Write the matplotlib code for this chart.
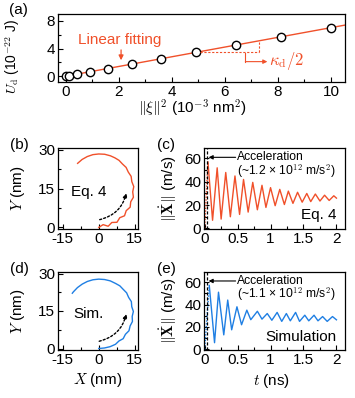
import numpy as np
import matplotlib
matplotlib.use("Agg")
import matplotlib.pyplot as plt
from matplotlib.ticker import MultipleLocator

plt.rcParams['font.family'] = ['Liberation Sans', 'DejaVu Sans']
plt.rcParams['font.size'] = 11
plt.rcParams['mathtext.fontset'] = 'cm'
plt.rcParams['axes.unicode_minus'] = False
plt.rcParams['axes.linewidth'] = 0.9

RED = '#f0502a'
BLUE = '#1f7fe3'

# ---------------- data ----------------
# (a) energy vs squared displacement
xi2 = [0, 0.1, 0.4, 0.9, 1.6, 2.5, 3.6, 4.9, 6.4, 8.1, 10.0]
Ud = [0.0, 0.07, 0.28, 0.63, 1.1, 1.75, 2.55, 3.45, 4.5, 5.7, 7.0]

# (b) trajectory, Eq. 4
Xb = [0, 1.84, 3.95, 5.47, 7.63, 8.78, 10.77, 11.48, 13.13, 13.36, 14.48, 14.19,
      14.63, 13.82, 13.53, 12.34, 11.43, 9.90, 8.47, 6.71, 4.87, 2.47, 0.0,
      -2.44, -4.77, -6.93, -8.81]
Yb = [0, 1.08, 0.46, 1.91, 1.99, 3.74, 4.50, 6.46, 7.81, 9.86, 11.64, 13.70,
      15.74, 17.65, 19.68, 21.33, 23.13, 24.45, 25.85, 26.83, 27.60, 28.19, 28.30,
      28.04, 27.31, 26.19, 24.69]

# (d) trajectory, simulation
Xd = [0, 2.40, 4.75, 7.0, 8.44, 10.21, 11.16, 12.63, 13.11, 14.08, 13.97, 14.47,
      13.79, 13.63, 12.49, 11.65, 10.21, 8.81, 7.05, 4.82, 2.44, 0.0, -2.42,
      -4.74, -6.9, -8.87, -10.57, -11.02]
Yd = [0, 0.21, 0.73, 1.68, 3.0, 3.93, 5.69, 7.09, 9.03, 10.8, 12.82, 14.81,
      16.73, 18.76, 20.44, 22.27, 23.67, 25.07, 26.01, 27.05, 27.59, 27.75, 27.49,
      26.82, 25.75, 24.37, 22.67, 22.11]

# (c) speed vs time, Eq. 4
t_c = [0, 0.05, 0.12, 0.19, 0.25, 0.32, 0.39, 0.46, 0.53, 0.59, 0.66, 0.73, 0.80,
       0.87, 0.93, 1.00, 1.07, 1.14, 1.21, 1.27, 1.34, 1.41, 1.48, 1.55, 1.61,
       1.68, 1.75, 1.82, 1.89, 1.96, 2.0]
v_c = [0, 57, 7, 52, 8, 48, 10, 45, 12, 42, 14, 39.5, 16, 37, 18, 35, 19.5, 33.5,
       20.5, 32, 21.5, 31, 22.5, 30, 23, 29.5, 23.5, 28.5, 24, 28, 26]

# (e) speed vs time, simulation
t_e = [0, 0.07, 0.15, 0.21, 0.29, 0.35, 0.41, 0.49, 0.56, 0.64, 0.70, 0.80, 0.87,
       0.95, 1.02, 1.10, 1.17, 1.24, 1.30, 1.38, 1.44, 1.52, 1.58, 1.66, 1.72,
       1.79, 1.86, 1.94, 2.0]
v_e = [0, 57, 6, 51, 13, 44, 17.5, 38, 22, 35, 26.5, 34, 27, 32, 26, 33, 25, 32,
       25.5, 33, 25, 30.5, 25.5, 30.5, 25.5, 29.3, 25, 29.3, 26.4]

accel_t = 0.04
accel_c = "(~1.2 × 10$^{\\mathsf{12}}$ m/s$^{\\mathsf{2}}$)"
accel_e = "(~1.1 × 10$^{\\mathsf{12}}$ m/s$^{\\mathsf{2}}$)"

# ---------------- layout ----------------
W, H = 355, 398
fig = plt.figure(figsize=(W / 100, H / 100), dpi=100)


def add_ax(l, r, t, b):
    return fig.add_axes([l / W, 1 - b / H, (r - l) / W, (b - t) / H])


def style(ax):
    ax.tick_params(which='both', direction='in', labelsize=11, pad=2, width=0.8)
    ax.tick_params(which='major', length=3.5)
    ax.tick_params(which='minor', length=2)


axa = add_ax(58, 345, 14, 82)
axb = add_ax(58, 138, 148, 229)
axc = add_ax(204, 345, 148, 229)
axd = add_ax(58, 138, 272, 350)
axe = add_ax(204, 345, 272, 350)

# ---- (a)
coef = np.polyfit(xi2, Ud, 1)
xfit = np.array([0, 10.6])
axa.plot(xfit, np.polyval(coef, xfit), color=RED, lw=1.0, zorder=1)
axa.plot(xi2, Ud, 'o', mfc='white', mec='black', ms=6, mew=1.0, zorder=2)
axa.set_xlim(-0.3, 10.53)
axa.set_ylim(-0.85, 9)
axa.xaxis.set_major_locator(MultipleLocator(2))
axa.xaxis.set_minor_locator(MultipleLocator(1))
axa.yaxis.set_major_locator(MultipleLocator(4))
axa.yaxis.set_minor_locator(MultipleLocator(2))
style(axa)
axa.set_ylabel("$U_\\mathrm{d}$ (10$^{\\mathsf{-22}}$ J)", fontsize=10)
axa.yaxis.set_label_coords(-0.125, 0.38)
axa.set_xlabel("$\\Vert\\xi\\Vert^2$ (10$^{\\mathsf{-3}}$ nm$^{\\mathsf{2}}$)")
axa.xaxis.set_label_coords(0.47, -0.24)
axa.text(2.02, 5.2, "Linear fitting", color=RED, ha='center', va='center', fontsize=11)
axa.annotate('', xy=(2.08, 1.9), xytext=(2.08, 4.2),
             arrowprops=dict(arrowstyle='-|>', color=RED, lw=0.9, mutation_scale=7))
axa.plot([5.05, 7.27], [3.55, 3.55], ls=(0, (2, 1.5)), color=RED, lw=0.8)
axa.plot([7.27, 7.27], [3.55, 5.05], ls=(0, (2, 1.5)), color=RED, lw=0.8)
axa.plot([6.77, 6.77], [3.3, 2.1], color=RED, lw=0.8)
axa.annotate('', xy=(7.6, 2.1), xytext=(6.77, 2.1),
             arrowprops=dict(arrowstyle='-|>', color=RED, lw=0.8, mutation_scale=6,
                             shrinkA=0, shrinkB=0))
axa.text(7.68, 2.25, "$\\kappa_\\mathrm{d}/2$", color=RED, ha='left', va='center', fontsize=12)


# ---- trajectories
def traj(ax, X, Y, color, label, arrow_from, arrow_to):
    ax.plot(X, Y, color=color, lw=1.0, solid_joinstyle='round')
    ax.set_xlim(-17, 16.4)
    ax.set_ylim(-0.6, 30.6)
    ax.xaxis.set_major_locator(MultipleLocator(15))
    ax.xaxis.set_minor_locator(MultipleLocator(7.5))
    ax.yaxis.set_major_locator(MultipleLocator(15))
    ax.yaxis.set_minor_locator(MultipleLocator(7.5))
    style(ax)
    ax.set_ylabel("$Y$ (nm)")
    ax.yaxis.set_label_coords(-0.39, 0.5)
    ax.text(-4.2, 13.7, label, ha='center', va='center', fontsize=11)
    ax.annotate('', xy=arrow_to, xytext=arrow_from,
                arrowprops=dict(arrowstyle='-|>', color='black', lw=1.0, ls=(0, (1.5, 1.5)),
                                mutation_scale=6, connectionstyle='arc3,rad=0.3',
                                shrinkA=0, shrinkB=0))


traj(axb, Xb, Yb, RED, "Eq. 4", (0.4, 3.0), (11.5, 13.2))
traj(axd, Xd, Yd, BLUE, "Sim.", (0.2, 2.9), (11.5, 13.8))
axd.set_xlabel("$X$ (nm)")
axd.xaxis.set_label_coords(0.5, -0.27)


# ---- speeds
def speed(ax, t, v, color, label, acc):
    ax.plot(t[:2], v[:2], color=color, lw=1.0, ls=(0, (1, 1)))
    ax.plot(t[1:], v[1:], color=color, lw=1.0, solid_joinstyle='round')
    ax.axvline(accel_t, color='black', lw=0.9, ls=(0, (2.5, 1.5)))
    ax.set_xlim(-0.01, 2.13)
    ax.set_ylim(-0.5, 69)
    ax.xaxis.set_major_locator(MultipleLocator(0.5))
    ax.xaxis.set_minor_locator(MultipleLocator(0.25))
    ax.yaxis.set_major_locator(MultipleLocator(20))
    ax.yaxis.set_minor_locator(MultipleLocator(10))
    ax.set_xticks([0, 0.5, 1, 1.5, 2])
    ax.set_xticklabels(['0', '0.5', '1', '1.5', '2'])
    style(ax)
    ax.set_ylabel("$\\Vert\\dot{\\mathbf{X}}\\Vert$ (m/s)")
    ax.yaxis.set_label_coords(-0.175, 0.5)
    ax.annotate('', xy=(accel_t + 0.02, 61), xytext=(0.47, 61),
                arrowprops=dict(arrowstyle='-|>', color='black', lw=0.8, mutation_scale=6,
                                shrinkA=0, shrinkB=0))
    ax.text(0.49, 61, "Acceleration", ha='left', va='center', fontsize=8.7)
    ax.text(0.49, 49, acc, ha='left', va='center', fontsize=8.7)
    ax.text(2.0, 11.5, label, ha='right', va='center', fontsize=11)


speed(axc, t_c, v_c, RED, "Eq. 4", accel_c)
speed(axe, t_e, v_e, BLUE, "Simulation", accel_e)
axe.set_xlabel("$t$ (ns)")
axe.xaxis.set_label_coords(0.48, -0.28)

# panel labels
for lab, x, y in [("(a)", 9, 10), ("(b)", 10, 145), ("(c)", 157, 145),
                  ("(d)", 10, 269), ("(e)", 157, 269)]:
    fig.text(x / W, 1 - y / H, lab, ha='left', va='center', fontsize=11)

fig.savefig("out.png", dpi=100)
